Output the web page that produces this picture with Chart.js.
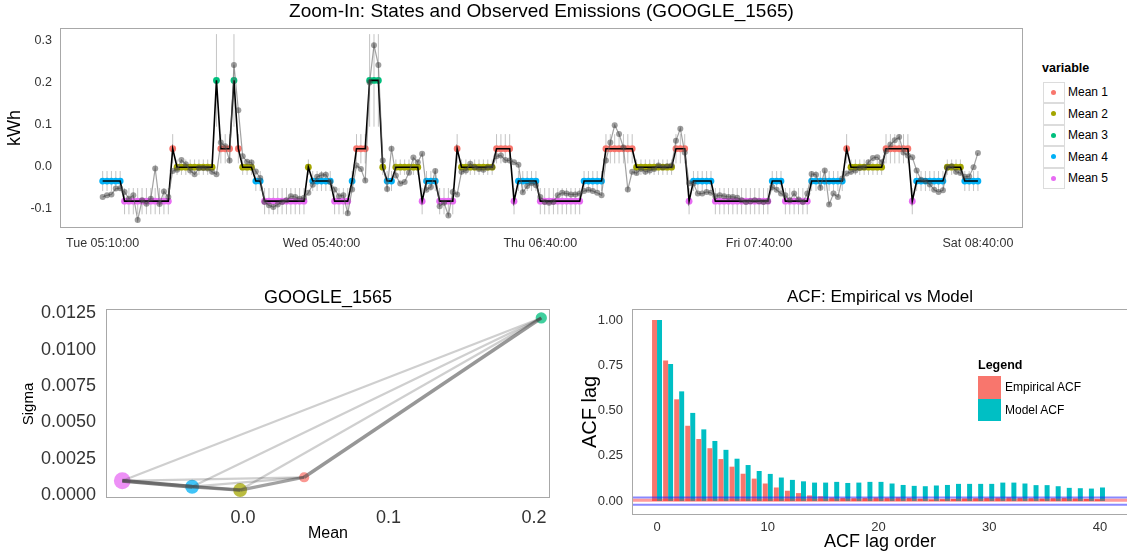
<!DOCTYPE html>
<html>
<head>
<meta charset="utf-8">
<script src="https://cdn.jsdelivr.net/npm/chart.js@4.4.1/dist/chart.umd.min.js"></script>
<style>
  body { margin: 0; width: 1127px; height: 556px; overflow: hidden; background: #fff; position: relative;
         font-family: "Liberation Sans", Arial, sans-serif; }
  canvas, .lg { position: absolute; }
  .lg { white-space: nowrap; line-height: 1; }
  .key { position: absolute; box-sizing: border-box; border: 1px solid #dcdcdc; background: #fff; }
  .dot { position: absolute; width: 5px; height: 5px; border-radius: 50%; }
</style>
</head>
<body>
<canvas id="topChart" width="1029" height="258" style="left:0;top:0"></canvas>
<canvas id="sigmaChart" width="560" height="276" style="left:0;top:280px"></canvas>
<canvas id="acfChart" width="568" height="276" style="left:560px;top:280px"></canvas>
<div id="topLegend"></div>
<div id="acfLegend"></div>
<script>
// ---- data ----
const stateNames = ['Mean 1', 'Mean 2', 'Mean 3', 'Mean 4', 'Mean 5'];
const stateMean  = [0.042, -0.002, 0.205, -0.035, -0.083];
const stateSigma = [0.00122, 0.00034, 0.01218, 0.00057, 0.00098];
const stateFreq  = [0.10, 0.27, 0.15, 0.27, 0.40];

const timeLabels = ['Tue 05:10:00', 'Wed 05:40:00', 'Thu 06:40:00', 'Fri 07:40:00', 'Sat 08:40:00'];
const timeLabelIndex = [0, 50, 100, 150, 200];

// decoded state per time step (1..5)
const stateSeq = [
  4,4,4,4,4,5,5,5,5,5, 5,5,5,5,5,5,1,2,2,2, 2,2,2,2,2,2,3,1,1,1, 3,1,2,2,2,4,4,5,5,5,
  5,5,5,5,5,5,5,2,4,4, 4,4,4,5,5,5,5,4,1,1, 1,3,3,3,2,4,4,2,2,2, 2,2,2,5,4,4,4,5,5,5,
  5,1,2,2,2,2,2,2,2,2, 1,1,1,1,5,4,4,4,4,4, 5,5,5,5,5,5,5,5,5,5, 4,4,4,4,4,1,1,1,1,1,
  1,1,2,2,2,2,2,2,2,2, 2,1,1,1,5,4,4,4,4,4, 5,5,5,5,5,5,5,5,5,5, 5,5,5,4,4,4,5,5,5,5,
  5,5,4,4,4,4,4,4,4,4, 1,2,2,2,2,2,2,2,2,1, 1,1,1,1,1,5,4,4,4,4, 4,4,4,2,2,2,2,4,4,4,
  4
];

// observed kWh per time step
const observed = [
  -0.073,-0.069,-0.067,-0.053,-0.052,-0.061,-0.077,-0.069,-0.128,-0.081,
  -0.089,-0.077,-0.005,-0.090,-0.060,-0.073,-0.011,-0.008,0.015,0.005,
  -0.010,-0.019,-0.004,-0.004,-0.005,-0.013,-0.019,0.057,0.048,0.014,
  0.242,0.134,0.024,0.011,0.009,-0.012,-0.028,-0.085,-0.093,-0.097,
  -0.091,-0.085,-0.081,-0.071,-0.073,-0.077,-0.075,-0.063,-0.044,-0.025,
  -0.021,-0.020,-0.037,-0.055,-0.071,-0.069,-0.112,-0.055,0.002,-0.006,
  -0.034,0.200,0.289,0.242,0.014,-0.054,0.042,-0.022,-0.041,-0.037,
  -0.015,0.021,0.010,0.030,-0.056,-0.049,-0.011,-0.095,-0.087,-0.117,
  -0.061,-0.067,-0.013,-0.010,0.006,-0.002,-0.006,-0.008,-0.003,-0.002,
  0.024,0.026,0.015,0.014,0.010,0.004,-0.062,-0.047,-0.040,-0.045,
  -0.073,-0.085,-0.087,-0.085,-0.069,-0.063,-0.065,-0.067,-0.067,-0.065,
  -0.059,-0.056,-0.059,-0.063,-0.069,0.014,0.057,0.098,0.077,0.045,
  -0.055,-0.013,-0.016,-0.006,-0.013,-0.010,-0.006,0.002,-0.002,0.000,
  0.002,0.061,0.090,0.033,-0.040,-0.041,-0.065,-0.065,-0.061,-0.063,
  -0.071,-0.069,-0.071,-0.073,-0.073,-0.075,-0.081,-0.085,-0.083,-0.081,
  -0.083,-0.085,-0.083,-0.049,-0.056,-0.065,-0.069,-0.081,-0.065,-0.079,
  -0.085,-0.065,-0.018,-0.020,-0.051,-0.010,-0.091,-0.065,-0.073,-0.029,
  -0.017,-0.013,-0.010,-0.004,-0.002,0.010,0.020,0.022,0.010,0.036,
  0.052,0.062,0.070,0.033,0.026,0.022,-0.010,-0.032,-0.035,-0.043,
  -0.056,-0.061,-0.057,-0.003,0.000,-0.013,-0.016,-0.025,-0.024,-0.002,
  0.032
];

// transitions between states in the mean/sigma plot
const transFrom  = [5, 4, 2, 1, 5, 5, 4, 5, 4, 2];
const transTo    = [3, 3, 3, 3, 1, 4, 2, 2, 1, 1];
const transCount = [1, 1, 1, 6, 1, 8, 6, 3, 1, 5];

const lagOrder = [0,1,2,3,4,5,6,7,8,9,10,11,12,13,14,15,16,17,18,19,20,
                  21,22,23,24,25,26,27,28,29,30,31,32,33,34,35,36,37,38,39,40];
const acfEmpirical = [1.000,0.776,0.562,0.416,0.343,0.292,0.232,0.190,0.151,0.124,
                      0.097,0.075,0.057,0.044,0.031,0.026,0.020,0.018,0.016,0.018,
                      0.020,0.019,0.021,0.018,0.013,0.008,0.010,0.012,0.015,0.016,
                      0.018,0.020,0.021,0.019,0.016,0.014,0.016,0.018,0.015,0.012,0.010];
const acfModel = [1.000,0.757,0.606,0.487,0.396,0.332,0.283,0.234,0.199,0.166,
                  0.150,0.130,0.117,0.109,0.102,0.102,0.106,0.100,0.102,0.106,
                  0.106,0.097,0.089,0.084,0.082,0.086,0.089,0.095,0.095,0.095,
                  0.095,0.102,0.102,0.097,0.088,0.088,0.082,0.073,0.071,0.069,0.075];
const acfBand = [0.02, -0.02];
const acfCentre = 0.004;

// ---- styling ----
const stateColors = ['#F8766D', '#A3A500', '#00BF7D', '#00B0F6', '#E76BF3'];
const FONT = '"Liberation Sans", Arial, sans-serif';
Chart.defaults.font.family = FONT;
Chart.defaults.color = '#333';
Chart.defaults.animation = false;
Chart.defaults.plugins.legend.display = false;
Chart.defaults.plugins.tooltip.enabled = false;

function alpha(hex, a) {
  const n = parseInt(hex.slice(1), 16);
  return `rgba(${n >> 16},${(n >> 8) & 255},${n & 255},${a})`;
}

// grey frame round the plotting area, like the ggplot panel border
const panelBox = {
  id: 'panelBox',
  afterDatasetsDraw(chart) {
    const {ctx, chartArea: a} = chart;
    ctx.save();
    ctx.strokeStyle = '#a8a8a8';
    ctx.lineWidth = 1;
    ctx.strokeRect(Math.round(a.left) + 0.5, Math.round(a.top) + 0.5,
                   Math.round(a.width) - 1, Math.round(a.height) - 1);
    ctx.restore();
  }
};

const noGrid = {display: false, drawTicks: false};

// ---- top: states and observed emissions ----
const stateLevel = stateSeq.map((s, i) => ({x: i, y: stateMean[s - 1]}));
const errBars = [];
stateSeq.forEach((s, i) => {
  const m = stateMean[s - 1], sd = Math.sqrt(stateSigma[s - 1]);
  errBars.push({x: i, y: m - sd}, {x: i, y: m + sd}, {x: i, y: null});
});

new Chart(document.getElementById('topChart'), {
  type: 'line',
  data: {
    datasets: [
      {
        data: observed.map((v, i) => ({x: i, y: v})),
        borderColor: 'rgba(100,100,100,0.6)', borderWidth: 1.2,
        pointRadius: 3, pointBorderWidth: 0,
        pointBackgroundColor: 'rgba(60,60,60,0.5)', order: 1
      },
      {
        data: stateLevel, borderColor: '#000', borderWidth: 1.6,
        pointRadius: 0, order: 2
      },
      {
        data: stateLevel, showLine: false, pointRadius: 3.4, pointBorderWidth: 0,
        pointBackgroundColor: stateSeq.map(s => stateColors[s - 1]), order: 3
      },
      {
        data: errBars, borderColor: 'rgba(175,175,175,0.75)', borderWidth: 1,
        pointRadius: 0, spanGaps: false, order: 4
      }
    ]
  },
  options: {
    responsive: false,
    layout: {padding: {left: 0, right: 6, top: 0, bottom: 0}},
    plugins: {
      title: {
        display: true, fullSize: false, color: '#000',
        text: 'Zoom-In: States and Observed Emissions (GOOGLE_1565)',
        font: {size: 19, weight: 'normal'}, padding: {top: 0.6, bottom: 4.6}
      }
    },
    scales: {
      x: {
        type: 'linear', min: -9.75, max: 210.3, offset: false,
        grid: noGrid, border: {display: false},
        ticks: {font: {size: 12.5}, color: '#333', padding: 8, maxRotation: 0,
                autoSkip: false, callback: (v, i) => timeLabels[i]},
        afterBuildTicks: s => { s.ticks = timeLabelIndex.map(v => ({value: v})); },
        afterFit: s => { s.height = 30; }
      },
      y: {
        min: -0.147, max: 0.33,
        grid: noGrid, border: {display: false},
        ticks: {font: {size: 12.5}, color: '#333', padding: 8, callback: v => v.toFixed(1)},
        afterBuildTicks: s => { s.ticks = [-0.1, 0, 0.1, 0.2, 0.3].map(v => ({value: v})); },
        title: {display: true, text: 'kWh', color: '#000', font: {size: 18}, padding: {top: 4, bottom: 0}},
        afterFit: s => { s.width = 60; }
      }
    }
  },
  plugins: [panelBox]
});

// ---- bottom left: mean vs sigma of states ----
const transSets = transFrom.map((f, k) => ({
  data: [{x: stateMean[f - 1], y: stateSigma[f - 1]},
         {x: stateMean[transTo[k] - 1], y: stateSigma[transTo[k] - 1]}],
  showLine: true, pointRadius: 0,
  borderColor: `rgba(70,70,70,${(0.2 + 0.06 * transCount[k]).toFixed(3)})`,
  borderWidth: 2 + 0.25 * transCount[k],
  order: 1
}));

new Chart(document.getElementById('sigmaChart'), {
  type: 'scatter',
  data: {
    datasets: [
      ...transSets,
      {
        data: stateMean.map((m, i) => ({x: m, y: stateSigma[i]})),
        pointRadius: stateFreq.map(f => 4 + 11 * f),
        pointBackgroundColor: stateColors.map(c => alpha(c, 0.75)),
        pointBorderWidth: 0, order: 2
      }
    ]
  },
  options: {
    responsive: false,
    layout: {padding: {left: 0, right: 10, top: 0, bottom: 0}},
    plugins: {
      title: {
        display: true, fullSize: false, color: '#000', text: 'GOOGLE_1565',
        font: {size: 18, weight: 'normal'}, padding: {top: 7.5, bottom: 0.2}
      }
    },
    scales: {
      x: {
        type: 'linear', min: -0.0942, max: 0.211,
        grid: noGrid, border: {display: false},
        ticks: {font: {size: 18}, color: '#333', padding: 9, callback: v => v.toFixed(1)},
        afterBuildTicks: s => { s.ticks = [0, 0.1, 0.2].map(v => ({value: v})); },
        title: {display: true, text: 'Mean', color: '#000', font: {size: 16}, padding: {top: 0, bottom: 13}},
        afterFit: s => { s.height = 57.3; }
      },
      y: {
        min: -0.000254, max: 0.012775,
        grid: noGrid, border: {display: false},
        ticks: {font: {size: 18}, color: '#333', padding: 10, callback: v => v.toFixed(4)},
        afterBuildTicks: s => { s.ticks = [0, 0.0025, 0.005, 0.0075, 0.01, 0.0125].map(v => ({value: v})); },
        title: {display: true, text: 'Sigma', color: '#000', font: {size: 15}, padding: {top: 19.6, bottom: 0}},
        afterFit: s => { s.width = 106; }
      }
    }
  },
  plugins: [panelBox]
});

// ---- bottom right: ACF empirical vs model ----
const hLine = (y, color, w) => ({
  type: 'line', data: [{x: -5, y: y}, {x: 50, y: y}],
  borderColor: color, borderWidth: w, pointRadius: 0, order: 0
});

new Chart(document.getElementById('acfChart'), {
  type: 'bar',
  data: {
    datasets: [
      {
        label: 'Empirical ACF', data: lagOrder.map((l, i) => ({x: l, y: acfEmpirical[i]})),
        backgroundColor: '#F8766D', categoryPercentage: 0.9, barPercentage: 1, order: 2
      },
      {
        label: 'Model ACF', data: lagOrder.map((l, i) => ({x: l, y: acfModel[i]})),
        backgroundColor: '#00BFC4', categoryPercentage: 0.9, barPercentage: 1, order: 2
      },
      hLine(acfCentre, 'rgba(255,30,30,0.45)', 3),
      hLine(acfBand[0], 'rgba(40,40,255,0.55)', 2),
      hLine(acfBand[1], 'rgba(40,40,255,0.55)', 2)
    ]
  },
  options: {
    responsive: false,
    layout: {padding: {left: 0, right: 0, top: 0, bottom: 0}},
    plugins: {
      title: {
        display: true, fullSize: false, color: '#000', text: 'ACF: Empirical vs Model',
        font: {size: 17, weight: 'normal'}, padding: {top: 6.8, bottom: 1.8}
      }
    },
    scales: {
      x: {
        type: 'linear', min: -2.26, max: 42.53, offset: false,
        grid: {display: false, drawTicks: false, offset: false}, border: {display: false},
        ticks: {font: {size: 13}, color: '#333', padding: 5},
        afterBuildTicks: s => { s.ticks = [0, 10, 20, 30, 40].map(v => ({value: v})); },
        title: {display: true, text: 'ACF lag order', color: '#000', font: {size: 18}, padding: {top: 0, bottom: 3.4}},
        afterFit: s => { s.height = 41; }
      },
      y: {
        min: -0.077, max: 1.061, beginAtZero: false,
        grid: noGrid, border: {display: false},
        ticks: {font: {size: 13}, color: '#333', padding: 9, callback: v => v.toFixed(2)},
        afterBuildTicks: s => { s.ticks = [0, 0.25, 0.5, 0.75, 1].map(v => ({value: v})); },
        title: {display: true, text: 'ACF lag', color: '#000', font: {size: 20}, padding: {top: 18, bottom: 0}},
        afterFit: s => { s.width = 72; }
      }
    }
  },
  plugins: [panelBox]
});

// ---- legends (ggplot style keys) ----
function text(parent, str, left, top, size, bold) {
  const d = document.createElement('div');
  d.className = 'lg';
  d.textContent = str;
  d.style.left = left + 'px';
  d.style.top = top + 'px';
  d.style.fontSize = size + 'px';
  d.style.color = '#000';
  if (bold) d.style.fontWeight = 'bold';
  parent.appendChild(d);
  return d;
}

const topLeg = document.getElementById('topLegend');
text(topLeg, 'variable', 1042, 61.5, 12.5, true);
stateNames.forEach((name, i) => {
  const y = 81.7 + i * 21.5;
  const key = document.createElement('div');
  key.className = 'key';
  Object.assign(key.style, {left: '1043px', top: y + 'px', width: '21.5px', height: '21.5px'});
  const dot = document.createElement('div');
  dot.className = 'dot';
  Object.assign(dot.style, {left: '7.2px', top: '7.2px', background: stateColors[i]});
  key.appendChild(dot);
  topLeg.appendChild(key);
  text(topLeg, name, 1068, y + 4.7, 12, false);
});

const acfLeg = document.getElementById('acfLegend');
const acfLegendItems = ['Empirical ACF', 'Model ACF'];
const acfLegendColors = ['#F8766D', '#00BFC4'];
text(acfLeg, 'Legend', 978, 359, 12.5, true);
acfLegendItems.forEach((name, i) => {
  const y = 376 + i * 22.5;
  const key = document.createElement('div');
  Object.assign(key.style, {position: 'absolute', left: '978px', top: y + 'px', width: '23px',
                            height: '22.5px', background: acfLegendColors[i]});
  acfLeg.appendChild(key);
  text(acfLeg, name, 1005, y + 5, 12, false);
});
</script>
</body>
</html>
